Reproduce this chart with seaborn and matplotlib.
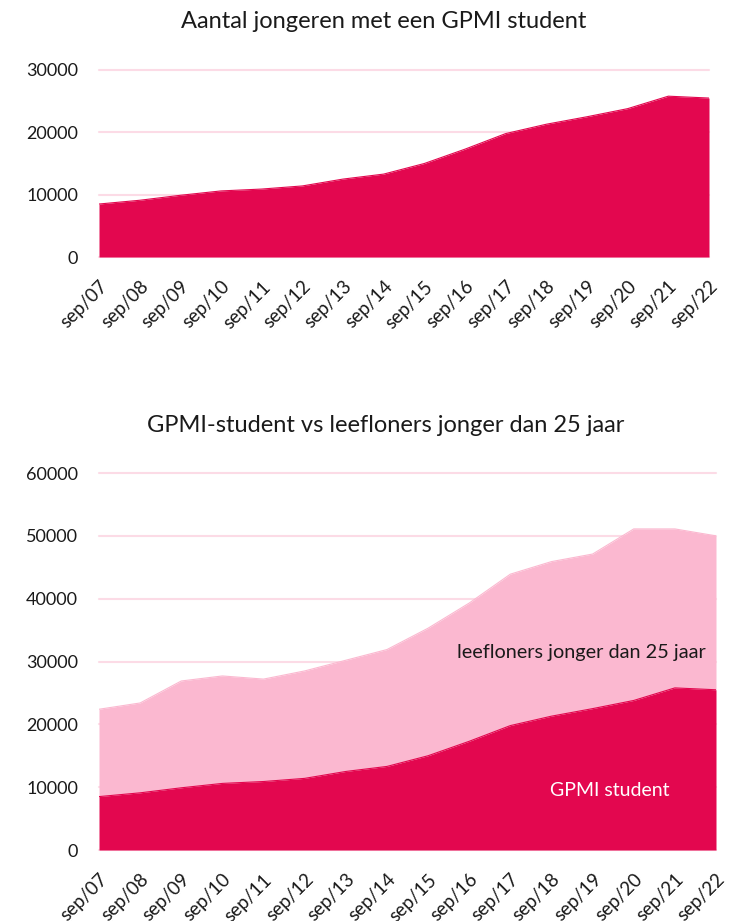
import numpy as np
import pandas as pd
import matplotlib
matplotlib.use('Agg')
import matplotlib.pyplot as plt
import seaborn as sns

# Data gelezen uit de grafiek
maanden = ['sep/07', 'sep/08', 'sep/09', 'sep/10', 'sep/11', 'sep/12', 'sep/13', 'sep/14',
           'sep/15', 'sep/16', 'sep/17', 'sep/18', 'sep/19', 'sep/20', 'sep/21', 'sep/22']
gpmi_student = [8500, 9100, 9900, 10600, 10900, 11400, 12500, 13300,
                15000, 17300, 19800, 21300, 22500, 23800, 25800, 25500]
leefloners_u25 = [13900, 14300, 17000, 17100, 16300, 17100, 17700, 18600,
                  20300, 22000, 24100, 24600, 24600, 27300, 25300, 24500]

donker = '#e3074f'
licht = '#fbb8d0'
raster = '#fcdbe6'
tekst = '#1a1a1a'

sns.set_theme(style='white')
plt.rcParams['font.family'] = ['Lato', 'DejaVu Sans']

df = pd.DataFrame({'maand': maanden, 'gpmi': gpmi_student, 'leef': leefloners_u25})
df['x'] = np.arange(len(df))
df['totaal'] = df['gpmi'] + df['leef']

W, H = 731, 921
fig = plt.figure(figsize=(W / 100, H / 100), dpi=100)
ax1 = fig.add_axes([99 / W, 1 - 257 / H, (709 - 99) / W, (257 - 70) / H])
ax2 = fig.add_axes([99 / W, 1 - 850 / H, (716 - 99) / W, (850 - 473) / H])

def opmaak(ax, ymax, stap):
    ax.set_xlim(0, len(maanden) - 1)
    ax.set_ylim(0, ymax)
    ax.set_yticks(np.arange(0, ymax + 1, stap))
    ax.set_yticklabels([str(v) for v in range(0, ymax + 1, stap)], fontsize=13)
    ax.set_xticks(df['x'])
    ax.set_xticklabels(maanden, rotation=45, ha='right', va='top',
                       rotation_mode='anchor', fontsize=13.5)
    ax.yaxis.grid(True, color=raster, linewidth=1.5, clip_on=False)
    ax.set_axisbelow(True)
    ax.tick_params(axis='y', length=0, pad=15, colors=tekst)
    ax.tick_params(axis='x', length=0, pad=15, colors=tekst)
    ax.set_xlabel('')
    ax.set_ylabel('')
    sns.despine(ax=ax, left=True, bottom=True)

# Bovenste grafiek
ax1.fill_between(df['x'], 0, df['gpmi'], color=donker, linewidth=0)
sns.lineplot(data=df, x='x', y='gpmi', ax=ax1, color=donker, linewidth=0.8)
opmaak(ax1, 30000, 10000)
fig.text(384 / W, 1 - 21 / H, 'Aantal jongeren met een GPMI student',
         ha='center', va='center', fontsize=17, color=tekst)

# Onderste grafiek (gestapeld)
ax2.fill_between(df['x'], df['gpmi'], df['totaal'], color=licht, linewidth=0)
ax2.fill_between(df['x'], 0, df['gpmi'], color=donker, linewidth=0)
sns.lineplot(data=df, x='x', y='totaal', ax=ax2, color=licht, linewidth=0.8)
sns.lineplot(data=df, x='x', y='gpmi', ax=ax2, color=donker, linewidth=0.8)
opmaak(ax2, 60000, 10000)
fig.text(386 / W, 1 - 425 / H, 'GPMI-student vs leefloners jonger dan 25 jaar',
         ha='center', va='center', fontsize=17, color=tekst)

ax2.text(0.781, 0.525, 'leefloners jonger dan 25 jaar', transform=ax2.transAxes,
         ha='center', va='center', fontsize=14.3, color=tekst)
ax2.text(0.827, 0.159, 'GPMI student', transform=ax2.transAxes,
         ha='center', va='center', fontsize=14, color='white')

fig.savefig('out.png', dpi=100)
